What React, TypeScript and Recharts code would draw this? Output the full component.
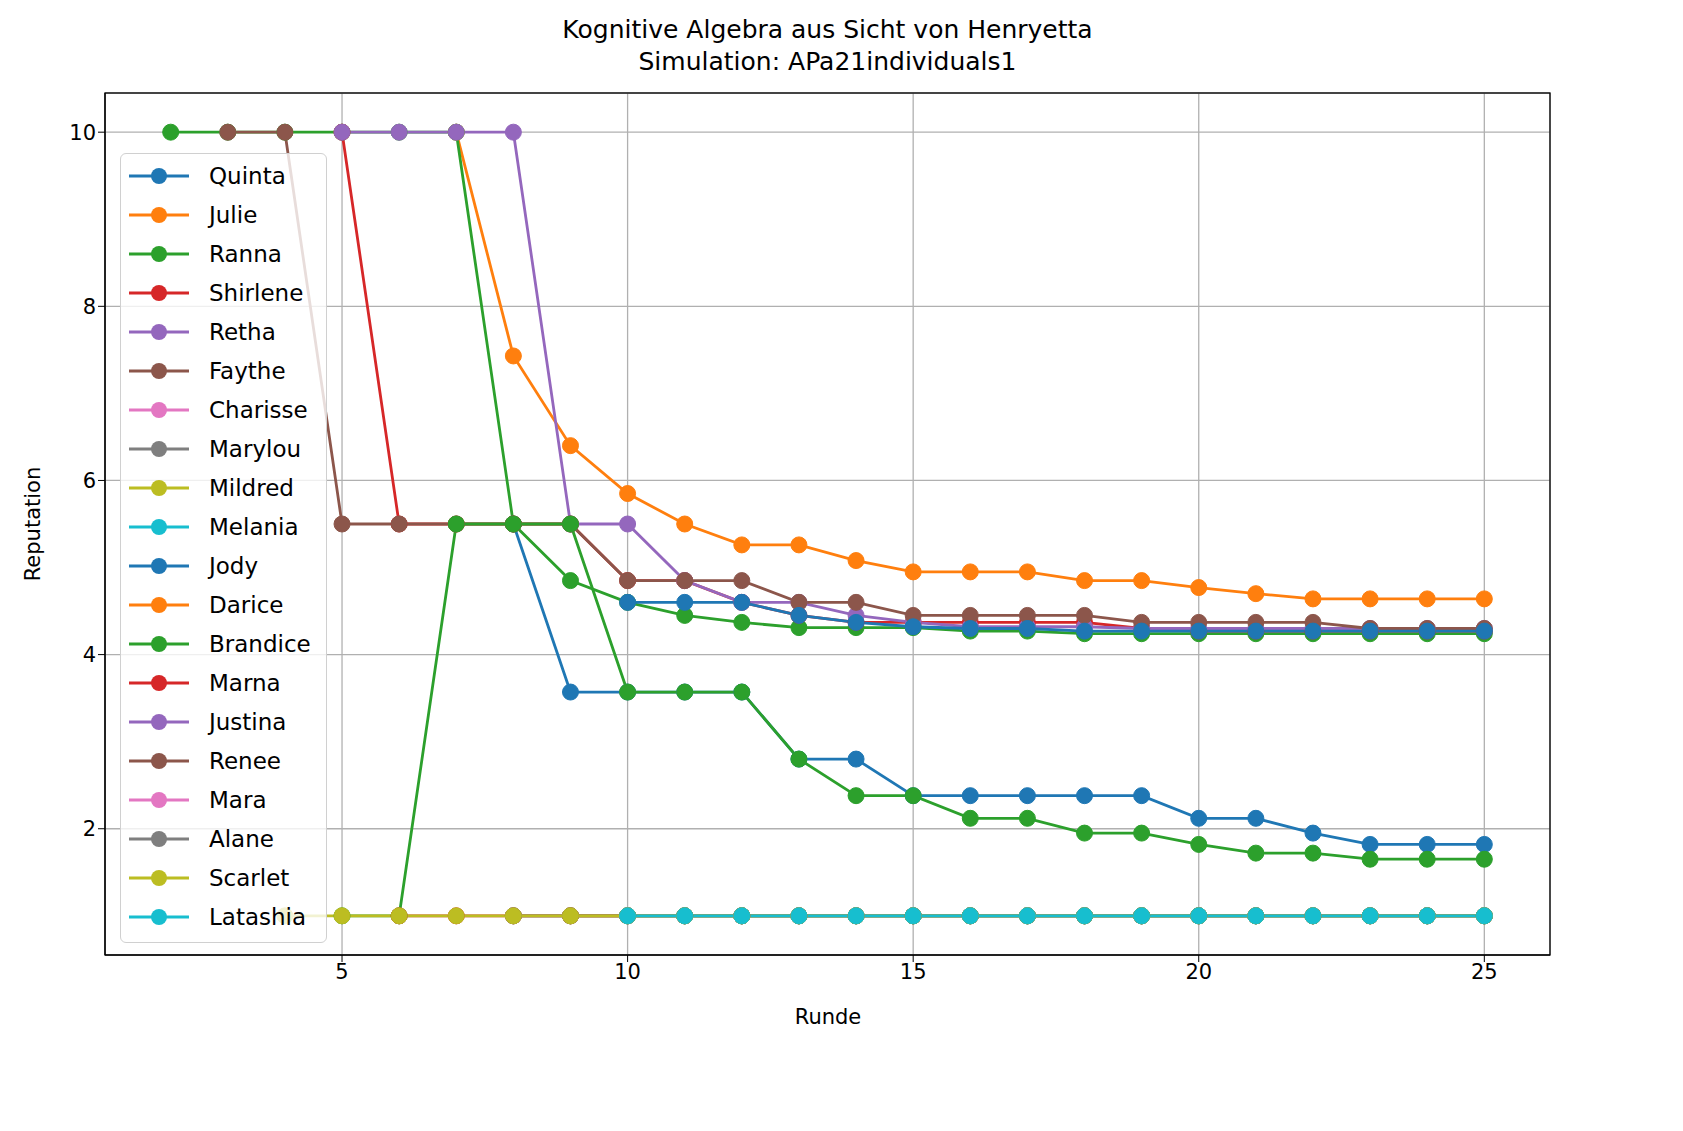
import { LineChart, Line, XAxis, YAxis, CartesianGrid } from "recharts";

const rounds = [1, 2, 3, 4, 5, 6, 7, 8, 9, 10, 11, 12, 13, 14, 15, 16, 17, 18, 19, 20, 21, 22, 23, 24, 25];
const N = null;

const quinta = [N, N, N, N, N, N, N, 5.5, 3.57, 3.57, 3.57, 3.57, 2.8, 2.8, 2.38, 2.38, 2.38, 2.38, 2.38, 2.12, 2.12, 1.95, 1.82, 1.82, 1.82];
const julie = [N, N, N, N, N, N, 10, 7.43, 6.4, 5.85, 5.5, 5.26, 5.26, 5.08, 4.95, 4.95, 4.95, 4.85, 4.85, 4.77, 4.7, 4.64, 4.64, 4.64, 4.64];
const ranna = [N, 10, 10, 10, 10, 10, 10, 5.5, 4.85, 4.6, 4.45, 4.37, 4.31, 4.31, 4.31, 4.27, 4.27, 4.24, 4.24, 4.24, 4.24, 4.24, 4.24, 4.24, 4.24];
const shirlene = [N, N, N, N, 10, 5.5, 5.5, 5.5, 5.5, 4.85, 4.85, 4.6, 4.45, 4.37, 4.37, 4.37, 4.37, 4.37, 4.3, 4.27, 4.27, 4.27, 4.27, 4.27, 4.27];
const retha = [N, N, N, N, 10, 10, 10, 10, 5.5, 5.5, 4.85, 4.6, 4.6, 4.45, 4.37, 4.32, 4.32, 4.32, 4.3, 4.3, 4.3, 4.3, 4.3, 4.3, 4.3];
const faythe = [N, N, 10, 10, 5.5, 5.5, 5.5, 5.5, 5.5, 4.85, 4.85, 4.85, 4.6, 4.6, 4.45, 4.45, 4.45, 4.45, 4.37, 4.37, 4.37, 4.37, 4.3, 4.3, 4.3];
const charisse = [N, N, N, N, N, N, N, N, N, N, N, N, N, N, N, N, N, N, N, N, N, N, N, N, N];
const marylou = [N, N, N, N, N, N, N, 1, 1, 1, 1, 1, 1, 1, 1, 1, 1, 1, 1, 1, 1, 1, 1, 1, 1];
const mildred = [N, N, N, N, N, N, N, N, 1, 1, 1, 1, 1, 1, 1, 1, 1, 1, 1, 1, 1, 1, 1, 1, 1];
const melania = [N, N, N, N, N, N, N, N, N, 1, 1, 1, 1, 1, 1, 1, 1, 1, 1, 1, 1, 1, 1, 1, 1];
const jody = [N, N, N, N, N, N, N, N, N, 4.6, 4.6, 4.6, 4.45, 4.37, 4.32, 4.3, 4.3, 4.27, 4.27, 4.27, 4.27, 4.27, 4.27, 4.27, 4.27];
const darice = [N, N, N, N, N, N, N, N, N, N, N, N, N, N, N, N, N, N, N, N, N, N, N, N, N];
const brandice = [N, N, N, N, 1, 1, 5.5, 5.5, 5.5, 3.57, 3.57, 3.57, 2.8, 2.38, 2.38, 2.12, 2.12, 1.95, 1.95, 1.82, 1.72, 1.72, 1.65, 1.65, 1.65];
const marna = [N, N, N, N, N, 1, 1, 1, 1, 1, 1, 1, 1, 1, 1, 1, 1, 1, 1, 1, 1, 1, 1, 1, 1];
const justina = [N, N, N, N, N, N, N, N, N, N, N, N, N, N, N, N, N, N, N, N, N, N, N, N, N];
const renee = [N, N, N, N, N, N, N, N, N, N, N, N, N, N, N, N, N, N, N, N, N, N, N, N, N];
const mara = [N, N, N, N, N, N, N, N, N, N, N, N, N, N, N, N, N, N, N, N, N, N, N, N, N];
const alane = [N, N, N, N, N, N, N, 1, 1, 1, 1, 1, 1, 1, 1, 1, 1, 1, 1, 1, 1, 1, 1, 1, 1];
const scarlet = [N, N, N, 1, 1, 1, 1, 1, 1, 1, 1, 1, 1, 1, 1, 1, 1, 1, 1, 1, 1, 1, 1, 1, 1];
const latashia = [N, N, N, N, N, N, N, N, N, 1, 1, 1, 1, 1, 1, 1, 1, 1, 1, 1, 1, 1, 1, 1, 1];

const names = ["Quinta", "Julie", "Ranna", "Shirlene", "Retha", "Faythe", "Charisse", "Marylou", "Mildred", "Melania",
  "Jody", "Darice", "Brandice", "Marna", "Justina", "Renee", "Mara", "Alane", "Scarlet", "Latashia"];
const values = [quinta, julie, ranna, shirlene, retha, faythe, charisse, marylou, mildred, melania,
  jody, darice, brandice, marna, justina, renee, mara, alane, scarlet, latashia];
const palette = ["#1f77b4", "#ff7f0e", "#2ca02c", "#d62728", "#9467bd", "#8c564b", "#e377c2", "#7f7f7f", "#bcbd22", "#17becf"];

const xTicks = [5, 10, 15, 20, 25];
const yTicks = [2, 4, 6, 8, 10];

const data = rounds.map((r, i) => {
  const row: Record<string, number | null> = { runde: r };
  names.forEach((n, k) => (row[n] = values[k][i]));
  return row;
});

const font = "DejaVu Sans";

export default function App() {
  return (
    <div style={{ position: "absolute", left: 0, top: 0, width: 1683, height: 1131, background: "#fff", fontFamily: font }}>
      <div style={{ position: "absolute", left: 105, width: 1445, top: 14, textAlign: "center", fontSize: 25, lineHeight: "32px", color: "#000" }}>
        Kognitive Algebra aus Sicht von Henryetta<br />Simulation: APa21individuals1
      </div>
      <LineChart width={1683} height={1131} data={data} margin={{ top: 93, right: 133, bottom: 146, left: 45 }}>
        <CartesianGrid stroke="#b0b0b0" strokeWidth={1.3} vertical horizontal />
        <XAxis dataKey="runde" type="number" domain={[0.85, 26.15]} ticks={xTicks} height={30}
          tick={{ fill: "#000", fontSize: 21, fontFamily: font }} tickSize={7} stroke="#000" />
        <YAxis type="number" domain={[0.55, 10.45]} ticks={yTicks} width={60}
          tick={{ fill: "#000", fontSize: 21, fontFamily: font }} tickSize={7} stroke="#000" />
        {names.map((n, k) => (
          <Line key={n} dataKey={n} type="linear" stroke={palette[k % 10]} strokeWidth={2.8}
            dot={{ r: 8, fill: palette[k % 10], stroke: palette[k % 10], strokeWidth: 1 }}
            activeDot={false} isAnimationActive={false} />
        ))}
        <rect x={105} y={93} width={1445} height={862} fill="none" stroke="#000" strokeWidth={1.3} />
      </LineChart>
      <div style={{ position: "absolute", left: 828, transform: "translateX(-50%)", top: 1005, fontSize: 21 }}>Runde</div>
      <div style={{ position: "absolute", left: 33, top: 524, transform: "translate(-50%,-50%) rotate(-90deg)", fontSize: 21 }}>Reputation</div>
      <div style={{ position: "absolute", left: 120, top: 153, width: 207, height: 790, background: "rgba(255,255,255,0.8)",
        border: "1.5px solid #d0d0d0", borderRadius: 6, boxSizing: "border-box" }}>
        {names.map((n, k) => (
          <div key={n} style={{ position: "absolute", left: 8, top: 7 + k * 39, height: 30, display: "flex", alignItems: "center" }}>
            <svg width={62} height={20}>
              <line x1={0} y1={10} x2={60} y2={10} stroke={palette[k % 10]} strokeWidth={2.8} />
              <circle cx={30} cy={10} r={8} fill={palette[k % 10]} />
            </svg>
            <span style={{ marginLeft: 18, fontSize: 23 }}>{n}</span>
          </div>
        ))}
      </div>
    </div>
  );
}
